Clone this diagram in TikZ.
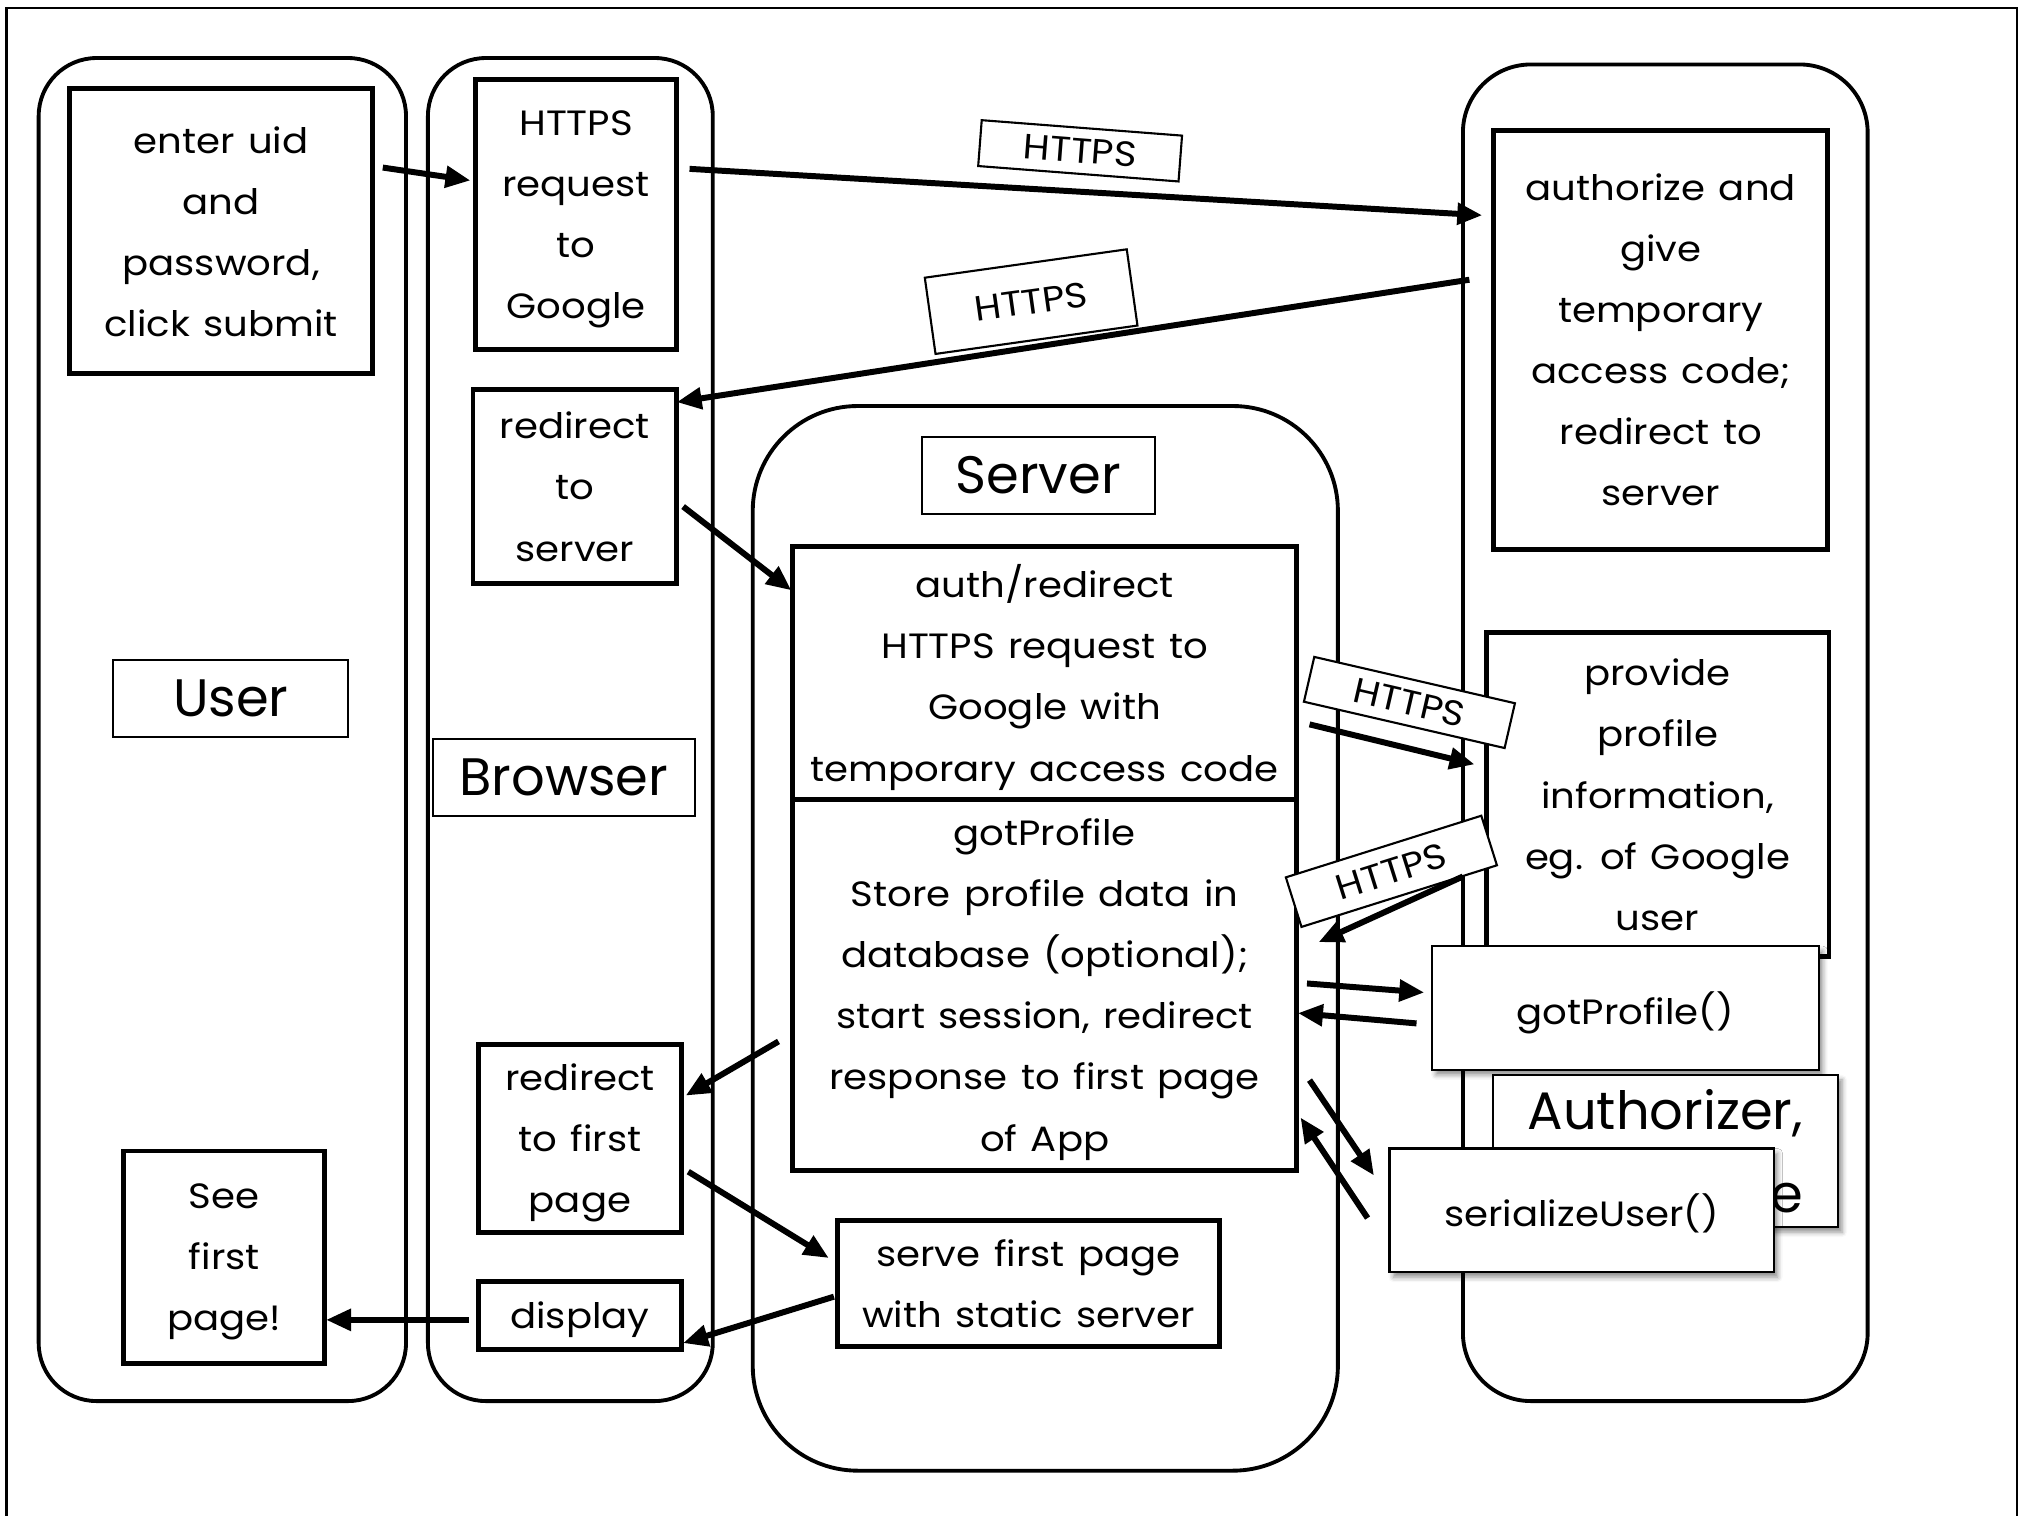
\documentclass[tikz,border=0pt]{standalone}
\usepackage{fontspec}
\setmainfont{Poppins}[FakeStretch=1.1,WordSpace=1.3]
\newfontfamily\bigfont{Poppins}
\usetikzlibrary{arrows.meta,fit,shadows.blur}
\begin{document}
\begin{tikzpicture}[x=0.012889cm,y=-0.012889cm,
  lane/.style={draw,line width=1.1pt,rounded corners=#1,inner sep=0pt,outer sep=0pt},
  sz/.style 2 args={minimum width=#1*0.012889cm,minimum height=#2*0.012889cm},
  box/.style={draw,line width=1.4pt,fill=white,inner sep=0pt,outer sep=0pt,align=center,text depth=-4pt,font=\fontsize{10}{17.4}\selectfont},
  tag/.style={draw,line width=0.6pt,fill=white,inner sep=0pt,outer sep=0pt,align=center,font=\bigfont\fontsize{15}{20}\selectfont},
  fnbox/.style={draw,line width=0.6pt,fill=white,inner sep=0pt,outer sep=0pt,align=center,text depth=-1.5pt,font=\fontsize{10}{17.4}\selectfont,
    blur shadow={shadow xshift=0.04cm,shadow yshift=-0.05cm,shadow blur radius=0.05cm,shadow opacity=45}},
  https/.style={draw,line width=0.6pt,fill=white,inner sep=0pt,outer sep=0pt,font=\fontsize{10}{12}\selectfont},
  arr/.style={line width=1.7pt,-{Triangle[length=0.25cm,width=0.21cm]}},
]
\useasboundingbox (0,0) rectangle (1568,1176);
% outer frame
\draw[line width=0.7pt] (5,1190) -- (5,6) -- (1565,6) -- (1565,1190);
% lanes
\node[lane=0.58cm, fit={(30,45)(315,1087)}] (userlane) {};
\node[lane=0.58cm, fit={(332,45)(553,1087)}] (browserlane) {};
\node[lane=1.05cm, fit={(584,315)(1038,1141)}] (serverlane) {};
\node[lane=0.68cm, fit={(1135,50)(1449,1087)}] (googlelane) {};
% lane titles
\node[tag, sz={182}{60}] (usertag) at (179,542) {User};
\node[tag, sz={203}{60}] (browsertag) at (437.5,603) {Browser};
\node[tag, sz={181}{60}] (servertag) at (805.5,369) {Server};
% boxes
\node[box, sz={235}{221}] (uid) at (171.5,179.5) {enter uid\\and\\password,\\click submit};
\node[box, sz={156}{209}] (req) at (447,166.5) {HTTPS\\request\\to\\Google};
\node[box, sz={158}{151}] (rts) at (446,377.5) {redirect\\to\\server};
\node[box, sz={158}{146}] (rfp) at (450,883) {redirect\\to first\\page};
\node[box, sz={158}{53}] (disp) at (450,1020.5) {display};
\node[box, sz={156}{165}] (see) at (174,975.5) {See\\first\\page!};
\node[box, sz={391}{196}] (ar) at (810.5,522) {auth/redirect\\HTTPS request to\\Google with\\temporary access code};
\node[box, sz={391}{288}] (gp) at (810.5,764) {gotProfile\\Store profile data in\\database (optional);\\start session, redirect\\response to first page\\of App};
\node[box, sz={296}{98}] (sfp) at (798,996) {serve first page\\with static server};
\node[box, sz={259}{325}] (auth) at (1288.5,263.5) {authorize and\\give\\temporary\\access code;\\redirect to\\server};
\node[box, sz={266}{251}] (prov) at (1286,616.5) {provide\\profile\\information,\\eg. of Google\\user};
\node[fnbox, sz={300}{96}] (gpf) at (1261,782) {gotProfile()};
\node[fnbox, sz={268}{118}, align=right, text depth=-3pt, font=\bigfont\fontsize{15}{23.8}\selectfont] (authz) at (1292,893) {Authorizer,\\module};
\node[fnbox, sz={298}{96}] (ser) at (1227,939) {serializeUser()};
% HTTPS labels
\node[https, rotate=-4.4, minimum width=2.01cm, minimum height=0.46cm] (h1) at (838,117) {HTTPS};
\node[https, rotate=8, minimum width=2.04cm, minimum height=0.77cm] (h2) at (800,234) {HTTPS};
\node[https, rotate=-13, minimum width=2.06cm, minimum height=0.46cm] (h3) at (1093.5,545) {HTTPS};
\node[https, rotate=17.5, minimum width=2.05cm, minimum height=0.52cm] (h4) at (1079.5,676) {HTTPS};
% arrows
\draw[arr] ([shift={(8,-49.5)}]uid.east) -- ([shift={(-4,-26.5)}]req.west);
\draw[arr] ([shift={(10,-35.5)}]req.east) -- ([shift={(-9,-96.5)}]auth.west);
\draw[arr] ([shift={(-19,-46.5)}]auth.west) -- ([shift={(0,10)}]rts.north east);
\draw[arr] ([shift={(5,15.5)}]rts.east) -- ([shift={(-1,-64)}]ar.west);
\draw[arr] ([shift={(10,40)}]ar.east) -- ([shift={(-9,-23.5)}]prov.west);
\draw[arr] ([shift={(-18,63.5)}]prov.west) -- ([shift={(17,-33)}]gp.east);
\draw[arr] ([shift={(8,-1)}]gp.east) -- ([shift={(-6,-12)}]gpf.west);
\draw[arr] ([shift={(-12,12)}]gpf.west) -- ([shift={(1,22)}]gp.east);
\draw[arr] ([shift={(10,74)}]gp.east) -- ([shift={(-12,-27)}]ser.west);
\draw[arr] ([shift={(-17,6)}]ser.west) -- ([shift={(3,103)}]gp.east);
\draw[arr] ([shift={(-11,44)}]gp.west) -- ([shift={(3,-33)}]rfp.east);
\draw[arr] ([shift={(5,26)}]rfp.east) -- ([shift={(-7,-20)}]sfp.west);
\draw[arr] ([shift={(-3,10)}]sfp.west) -- ([shift={(1,21.5)}]disp.east);
\draw[arr] ([shift={(-7,3.5)}]disp.west) -- ([shift={(1,48.5)}]see.east);
\end{tikzpicture}
\end{document}
